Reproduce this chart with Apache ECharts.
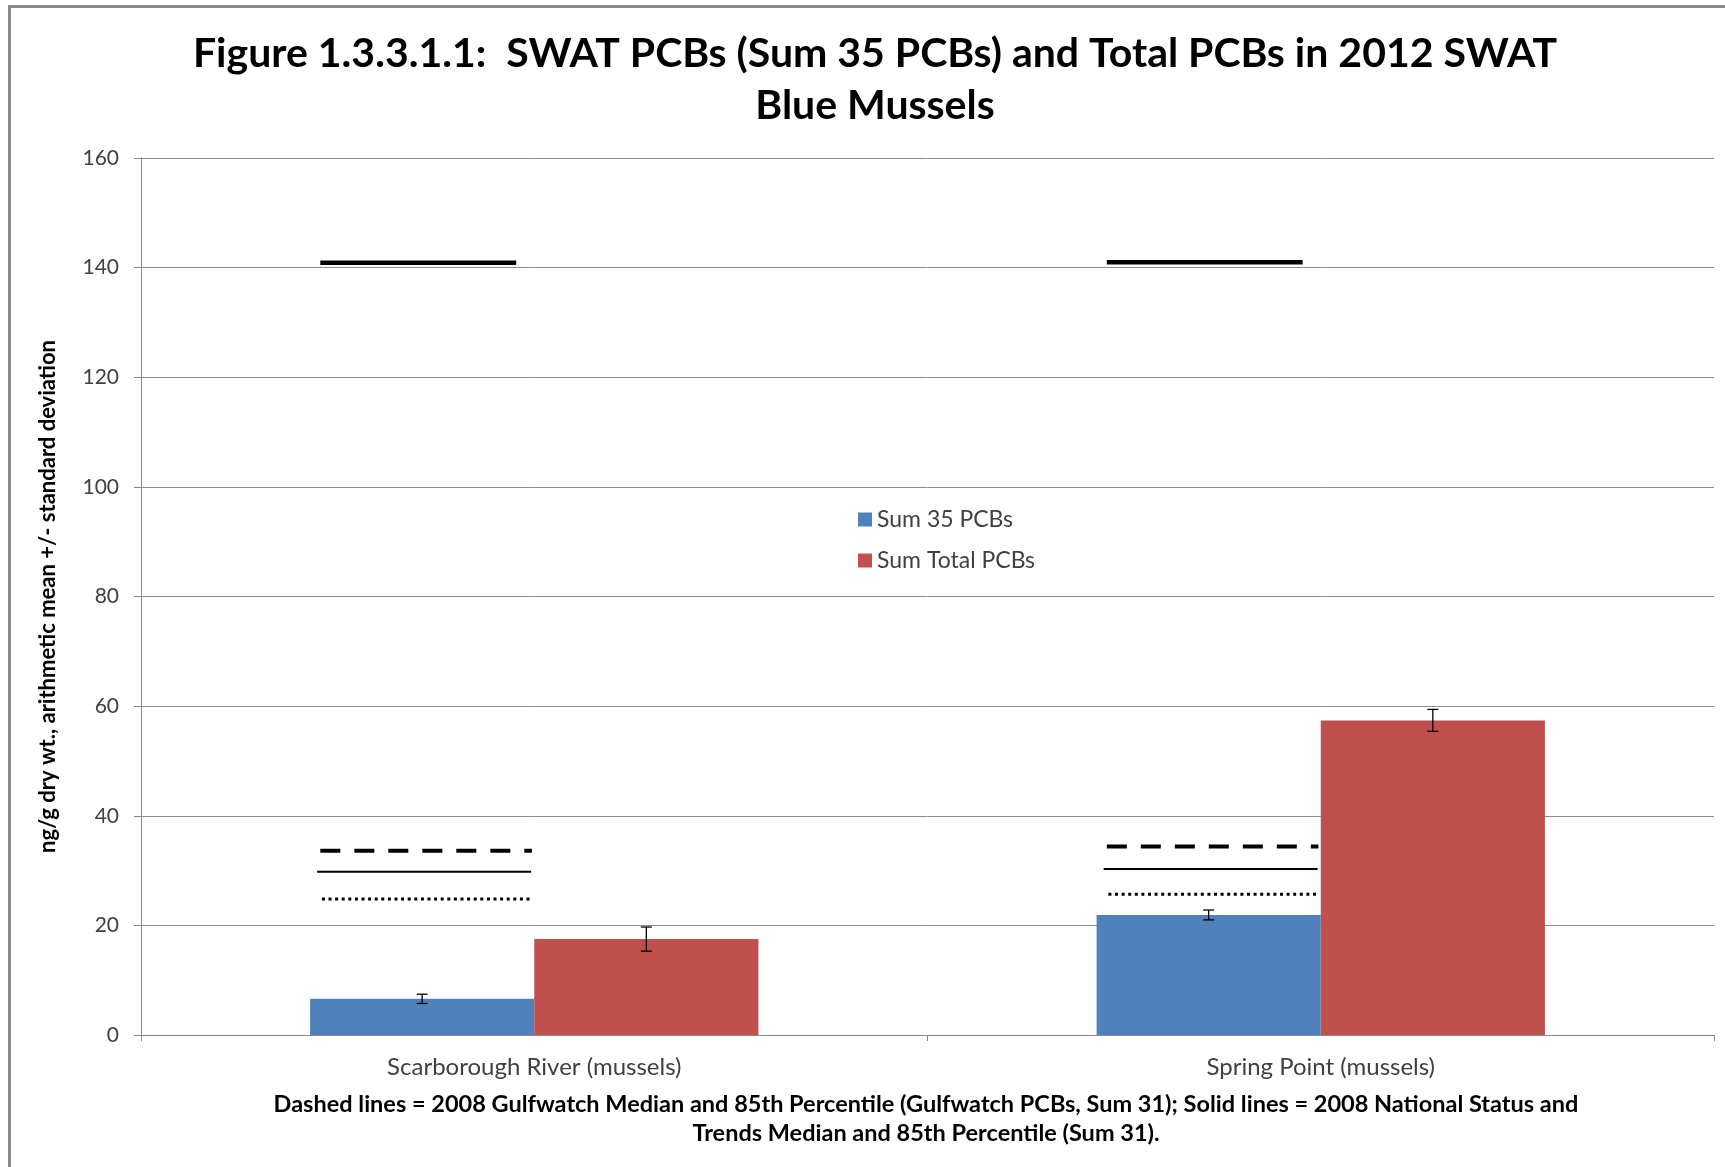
<!DOCTYPE html>
<html>
<head>
<meta charset="utf-8">
<script src="https://cdn.jsdelivr.net/npm/echarts@6/dist/echarts.min.js"></script>
<style>
  html, body { margin: 0; padding: 0; background: #fff; }
  #chart { width: 1725px; height: 1167px; }
</style>
</head>
<body>
<div id="chart"></div>
<script>
// sites
const categories = ['Scarborough River (mussels)', 'Spring Point (mussels)'];

// SWAT results (mean and standard deviation)
const sum35 = [6.6, 21.9];
const sum35Sd = [0.85, 0.9];
const sumTotal = [17.5, 57.4];
const sumTotalSd = [2.2, 2.0];

// 2008 reference levels
const gulfwatchMedian = [24.8, 25.7];  // dotted
const gulfwatch85 = [33.6, 34.4];      // dashed
const nstMedian = [29.8, 30.3];        // thin solid
const nst85 = [140.9, 141.0];          // thick solid

const yTicks = [0, 20, 40, 60, 80, 100, 120, 140, 160];

const FONT = 'Lato, "Open Sans", sans-serif';
const BAR_FRAC = 0.285; // share of the category band taken by one bar

const chart = echarts.init(document.getElementById('chart'));

// vertical error bar with caps, centred on a bar
function errorBarItem(sign) {
  return function (params, api) {
    const cat = api.value(0);
    const lo = api.coord([cat, api.value(1)]);
    const hi = api.coord([cat, api.value(2)]);
    const band = api.size([1, 0])[0];
    const x = lo[0] + sign * band * BAR_FRAC / 2;
    const cap = 5.5;
    const style = { stroke: '#000', lineWidth: 1.3 };
    return {
      type: 'group',
      children: [
        { type: 'line', shape: { x1: x, y1: lo[1], x2: x, y2: hi[1] }, style: style },
        { type: 'line', shape: { x1: x - cap, y1: lo[1], x2: x + cap, y2: lo[1] }, style: style },
        { type: 'line', shape: { x1: x - cap, y1: hi[1], x2: x + cap, y2: hi[1] }, style: style }
      ]
    };
  };
}

// horizontal reference segment drawn over the left bar of a site
function refLineItem(startFrac, endFrac, style) {
  return function (params, api) {
    const p = api.coord([api.value(0), api.value(1)]);
    const band = api.size([1, 0])[0];
    return {
      type: 'line',
      shape: { x1: p[0] - band * startFrac, y1: p[1], x2: p[0] - band * endFrac, y2: p[1] },
      style: Object.assign({ stroke: '#000' }, style)
    };
  };
}

function pairs(vals) {
  return vals.map((v, i) => [i, v]);
}

function errData(vals, sds) {
  return vals.map((v, i) => [i, v - sds[i], v + sds[i]]);
}

const option = {
  backgroundColor: '#fff',
  animation: false,
  grid: { left: 141, top: 158, right: 11, bottom: 132 },
  legend: {
    data: ['Sum 35 PCBs', 'Sum Total PCBs'],
    orient: 'vertical',
    left: 853,
    top: 503,
    itemWidth: 14,
    itemHeight: 14,
    itemGap: 18,
    icon: 'rect',
    textStyle: { fontFamily: FONT, fontSize: 23, color: '#404040' }
  },
  xAxis: {
    type: 'category',
    data: categories,
    axisLine: { lineStyle: { color: '#888', width: 1 } },
    axisTick: { show: true, length: 6, lineStyle: { color: '#888' } },
    axisLabel: { margin: 20, fontFamily: FONT, fontSize: 24, color: '#404040' }
  },
  yAxis: {
    type: 'value',
    min: 0,
    max: yTicks[yTicks.length - 1],
    interval: yTicks[1] - yTicks[0],
    name: 'ng/g dry wt., arithmetic mean +/- standard deviation',
    nameLocation: 'middle',
    nameGap: 82,
    nameTextStyle: { fontFamily: FONT, fontSize: 22, fontWeight: 'bold', color: '#000' },
    axisLine: { show: true, lineStyle: { color: '#888', width: 1 } },
    axisTick: { show: true, length: 7, lineStyle: { color: '#888' } },
    axisLabel: { margin: 22, fontFamily: FONT, fontSize: 21, color: '#404040' },
    splitLine: { lineStyle: { color: '#8c8c8c', width: 1 } }
  },
  series: [
    {
      name: 'Sum 35 PCBs',
      type: 'bar',
      data: sum35,
      barGap: '0%',
      barCategoryGap: '43%',
      itemStyle: { color: '#4F81BD' }
    },
    {
      name: 'Sum Total PCBs',
      type: 'bar',
      data: sumTotal,
      itemStyle: { color: '#C0504D' }
    },
    {
      type: 'custom',
      renderItem: errorBarItem(-1),
      data: errData(sum35, sum35Sd),
      encode: { x: 0, y: [1, 2] },
      z: 5
    },
    {
      type: 'custom',
      renderItem: errorBarItem(1),
      data: errData(sumTotal, sumTotalSd),
      encode: { x: 0, y: [1, 2] },
      z: 5
    },
    {
      type: 'custom',
      renderItem: refLineItem(0.272, 0.003, { lineWidth: 4, lineDash: [20, 14] }),
      data: pairs(gulfwatch85),
      encode: { x: 0, y: 1 },
      z: 6
    },
    {
      type: 'custom',
      renderItem: refLineItem(0.276, 0.004, { lineWidth: 2 }),
      data: pairs(nstMedian),
      encode: { x: 0, y: 1 },
      z: 6
    },
    {
      type: 'custom',
      renderItem: refLineItem(0.27, 0.002, { lineWidth: 3, lineDash: [3, 3.6] }),
      data: pairs(gulfwatchMedian),
      encode: { x: 0, y: 1 },
      z: 6
    },
    {
      type: 'custom',
      renderItem: refLineItem(0.272, 0.023, { lineWidth: 4.5 }),
      data: pairs(nst85),
      encode: { x: 0, y: 1 },
      z: 6
    }
  ],
  graphic: [
    { type: 'rect', shape: { x: 8, y: 5, width: 3, height: 1167 }, style: { fill: '#8a8a8a' } },
    { type: 'rect', shape: { x: 8, y: 5, width: 1717, height: 3 }, style: { fill: '#8a8a8a' } },
    {
      type: 'text', x: 875, y: 54,
      style: {
        text: 'Figure 1.3.3.1.1:  SWAT PCBs (Sum 35 PCBs) and Total PCBs in 2012 SWAT',
        font: 'bold 41px ' + FONT, fill: '#000', textAlign: 'center', textVerticalAlign: 'middle'
      }
    },
    {
      type: 'text', x: 875, y: 106,
      style: {
        text: 'Blue Mussels',
        font: 'bold 41px ' + FONT, fill: '#000', textAlign: 'center', textVerticalAlign: 'middle'
      }
    },
    {
      type: 'text', x: 926, y: 1104,
      style: {
        text: 'Dashed lines = 2008 Gulfwatch Median and 85th Percentile (Gulfwatch PCBs, Sum 31); Solid lines = 2008 National Status and',
        font: 'bold 23.5px ' + FONT, fill: '#000', textAlign: 'center', textVerticalAlign: 'middle'
      }
    },
    {
      type: 'text', x: 926, y: 1133,
      style: {
        text: 'Trends Median and 85th Percentile (Sum 31).',
        font: 'bold 23.5px ' + FONT, fill: '#000', textAlign: 'center', textVerticalAlign: 'middle'
      }
    }
  ]
};

chart.setOption(option);
</script>
</body>
</html>
